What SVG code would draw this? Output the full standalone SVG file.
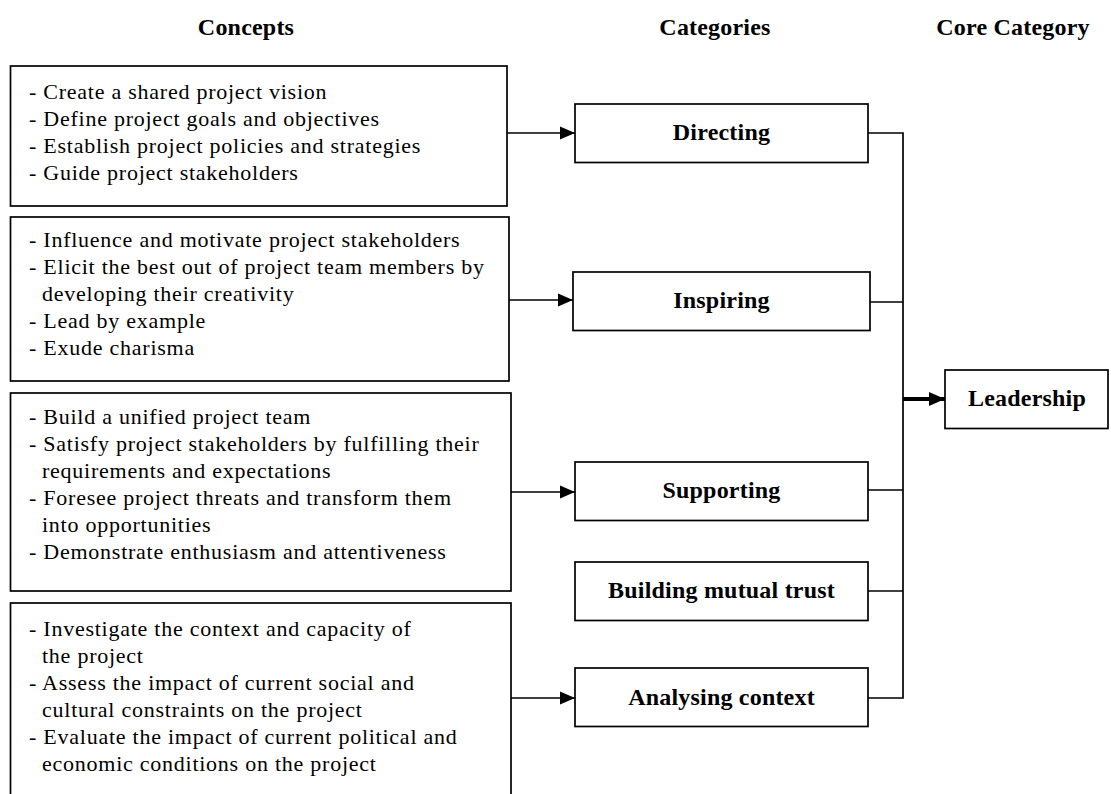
<svg xmlns="http://www.w3.org/2000/svg" width="1111" height="794" viewBox="0 0 1111 794">
  <defs>
    <style>
      .box { fill: #ffffff; stroke: #000000; stroke-width: 1.7; }
      .txt { font-family: "Liberation Serif", "Times New Roman", serif; font-size: 22px; letter-spacing: 0.75px; fill: #000000; }
      .bold { font-family: "Liberation Serif", "Times New Roman", serif; font-size: 24px; font-weight: bold; letter-spacing: 0.2px; fill: #000000; text-anchor: middle; }
      .wire { fill: none; stroke: #000000; stroke-width: 1.7; }
      .thick { fill: none; stroke: #000000; stroke-width: 4; }
    </style>
    <marker id="head" markerWidth="16" markerHeight="14" refX="15" refY="7" orient="auto" markerUnits="userSpaceOnUse">
      <path d="M0,0.5 L15,7 L0,13.5 Z" fill="#000000"/>
    </marker>
    <marker id="headBig" markerWidth="17" markerHeight="16" refX="16" refY="8" orient="auto" markerUnits="userSpaceOnUse">
      <path d="M0,1 L16,8 L0,15 Z" fill="#000000"/>
    </marker>
  </defs>

  <rect x="0" y="0" width="1111" height="794" fill="#ffffff"/>

  <!-- column headings -->
  <g id="headings">
    <text class="bold" x="246" y="35">Concepts</text>
    <text class="bold" x="715" y="35">Categories</text>
    <text class="bold" x="1013" y="35">Core Category</text>
  </g>

  <!-- concept boxes -->
  <g id="concepts-directing">
    <rect class="box" x="10.5" y="66" width="496.5" height="140"/>
    <text class="txt" x="29" y="99">- Create a shared project vision</text>
    <text class="txt" x="29" y="126">- Define project goals and objectives</text>
    <text class="txt" x="29" y="153">- Establish project policies and strategies</text>
    <text class="txt" x="29" y="180">- Guide project stakeholders</text>
  </g>

  <g id="concepts-inspiring">
    <rect class="box" x="10.5" y="217" width="498.5" height="164"/>
    <text class="txt" x="29" y="247">- Influence and motivate project stakeholders</text>
    <text class="txt" x="29" y="274">- Elicit the best out of project team members by</text>
    <text class="txt" x="42" y="301">developing their creativity</text>
    <text class="txt" x="29" y="328">- Lead by example</text>
    <text class="txt" x="29" y="355">- Exude charisma</text>
  </g>

  <g id="concepts-supporting">
    <rect class="box" x="10.5" y="393" width="500.5" height="198"/>
    <text class="txt" x="29" y="424">- Build a unified project team</text>
    <text class="txt" x="29" y="451">- Satisfy project stakeholders by fulfilling their</text>
    <text class="txt" x="42" y="478">requirements and expectations</text>
    <text class="txt" x="29" y="505">- Foresee project threats and transform them</text>
    <text class="txt" x="42" y="532">into opportunities</text>
    <text class="txt" x="29" y="559">- Demonstrate enthusiasm and attentiveness</text>
  </g>

  <g id="concepts-analysing">
    <rect class="box" x="10.5" y="603" width="500.5" height="220"/>
    <text class="txt" x="29" y="636">- Investigate the context and capacity of</text>
    <text class="txt" x="42" y="663">the project</text>
    <text class="txt" x="29" y="690">- Assess the impact of current social and</text>
    <text class="txt" x="42" y="717">cultural constraints on the project</text>
    <text class="txt" x="29" y="744">- Evaluate the impact of current political and</text>
    <text class="txt" x="42" y="771">economic conditions on the project</text>
  </g>

  <!-- category boxes -->
  <g id="cat-directing">
    <rect class="box" x="575" y="104" width="293" height="58.5"/>
    <text class="bold" x="721.5" y="140">Directing</text>
  </g>
  <g id="cat-inspiring">
    <rect class="box" x="573" y="272" width="297" height="58.5"/>
    <text class="bold" x="721.5" y="308">Inspiring</text>
  </g>
  <g id="cat-supporting">
    <rect class="box" x="575" y="462" width="293" height="58.5"/>
    <text class="bold" x="721.5" y="498">Supporting</text>
  </g>
  <g id="cat-trust">
    <rect class="box" x="575" y="562" width="293" height="58.5"/>
    <text class="bold" x="721.5" y="598">Building mutual trust</text>
  </g>
  <g id="cat-analysing">
    <rect class="box" x="575" y="668" width="293" height="58.5"/>
    <text class="bold" x="721.5" y="705">Analysing context</text>
  </g>

  <!-- core category -->
  <g id="core-leadership">
    <rect class="box" x="945" y="370" width="163" height="58.5"/>
    <text class="bold" x="1027" y="406">Leadership</text>
  </g>

  <!-- connectors -->
  <g id="connectors">
    <line class="wire" x1="507" y1="133" x2="575" y2="133" marker-end="url(#head)"/>
    <line class="wire" x1="509" y1="300" x2="573" y2="300" marker-end="url(#head)"/>
    <line class="wire" x1="511" y1="492" x2="575" y2="492" marker-end="url(#head)"/>
    <line class="wire" x1="511" y1="698" x2="575" y2="698" marker-end="url(#head)"/>

    <polyline class="wire" points="868,133 903,133 903,698 868,698"/>
    <line class="wire" x1="870" y1="302" x2="903" y2="302"/>
    <line class="wire" x1="868" y1="490" x2="903" y2="490"/>
    <line class="wire" x1="868" y1="591" x2="903" y2="591"/>

    <line class="thick" x1="903" y1="399" x2="945" y2="399" marker-end="url(#headBig)"/>
  </g>
</svg>
